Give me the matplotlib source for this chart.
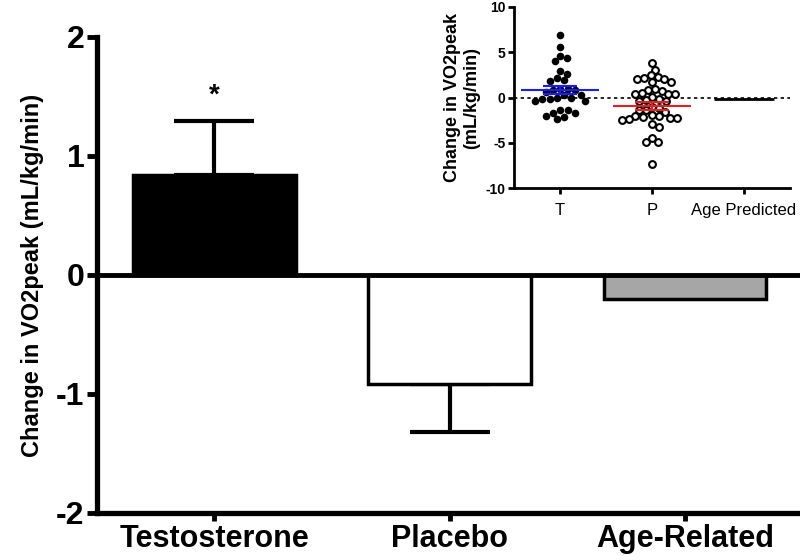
import numpy as np
import matplotlib
matplotlib.use('Agg')
import matplotlib.pyplot as plt

plt.rcParams['font.family'] = ['Liberation Sans', 'DejaVu Sans']

# Main bar chart data
groups = ['Testosterone', 'Placebo', 'Age-Related']
means = [0.84, -0.92, -0.20]
sems = [0.45, 0.40, 0.0]
bar_colors = ['black', 'white', '#a6a6a6']

# Inset scatter data (individual changes)
inset_labels = ['T', 'P', 'Age Predicted']
t_vals = [6.9, 5.6, 4.6, 4.4, 4.0, 2.9, 2.6, 2.2, 1.8, 1.9, 1.0, 1.0, 0.8, 0.8,
          0.6, 0.3, 0.0, -0.2, -0.35, -0.35, -0.2, 0.0, 0.3,
          -1.4, -1.7, -2.0, -2.4, -2.1, -1.7, -1.4]
p_vals = [3.8, 3.1, 2.5, 2.3, 2.2, 2.0, 2.0, 1.7, 1.7, 1.0, 0.8, 0.7, 0.4, 0.4,
          0.4, 0.5, 0.1, -0.2, -0.3, -0.4, -0.4, -1.0, -1.2, -1.4, -1.4, -1.6,
          -1.9, -2.0, -2.1, -2.2, -2.0, -2.2, -2.5, -2.4, -2.9, -3.2, -4.9,
          -4.9, -4.5, -7.3]
t_mean, t_sem = 0.84, 0.45
p_mean, p_sem = -0.92, 0.40
age_pred = -0.20


def swarm(vals, xunit_px, yunit_px, diam):
    # simple beeswarm: offsets (in data x units) so markers don't overlap
    placed = []
    offs = np.zeros(len(vals))
    order = np.argsort(vals)[::-1]
    for i in order:
        y = vals[i] * yunit_px
        for k in range(0, 400):
            cand = (k + 1) // 2 * (1 if k % 2 else -1) * 0.5
            if all((cand - px) ** 2 + (y - py) ** 2 >= diam ** 2 for px, py in placed):
                break
        placed.append((cand, y))
        offs[i] = cand / xunit_px
    return offs


fig = plt.figure(figsize=(8, 5.6), dpi=100)
ax = fig.add_axes([0.121, 0.084, 0.882, 0.85])

x = np.arange(len(groups))
ax.bar(x, means, width=0.69, color=bar_colors, edgecolor='black', linewidth=2.5, zorder=2)
# one-sided error bars
ax.errorbar(x[0], means[0], yerr=[[0], [sems[0]]], fmt='none', ecolor='black',
            elinewidth=3, capsize=29, capthick=3, zorder=1)
ax.errorbar(x[1], means[1], yerr=[[sems[1]], [0]], fmt='none', ecolor='black',
            elinewidth=3, capsize=29, capthick=3, zorder=1)
ax.text(x[0], means[0] + sems[0] + 0.22, '*', ha='center', va='center',
        fontsize=20, fontweight='bold')
ax.axhline(0, color='black', lw=3.5, zorder=3)

ax.set_xlim(-0.5, 2.5)
ax.set_ylim(-2, 2)
ax.set_yticks([-2, -1, 0, 1, 2])
ax.set_yticklabels(['-2', '-1', '0', '1', '2'], fontsize=23, fontweight='bold')
ax.set_xticks(x)
ax.set_xticklabels(groups, fontsize=22, fontweight='bold')
ax.tick_params(axis='x', length=6, width=3.5, pad=2)
ax.tick_params(axis='y', length=7, width=3.5, pad=2)
for s in ['top', 'right']:
    ax.spines[s].set_visible(False)
ax.spines['left'].set_linewidth(3.8)
ax.spines['bottom'].set_linewidth(3.8)
ax.set_ylabel('Change in VO2peak (mL/kg/min)', fontsize=17, fontweight='bold')
ax.yaxis.set_label_coords(-0.075, 0.5)

# Inset
ins = fig.add_axes([0.6425, 0.664, 0.345, 0.3235])
ins.set_xlim(-0.5, 2.5)
ins.set_ylim(-10, 10)
ins.axhline(0, color='black', lw=1.2, ls=(0, (2, 2)), zorder=1)
xu, yu = 92.0, 9.05
t_off = swarm(np.array(t_vals), xu, yu, 7.2)
p_off = swarm(np.array(p_vals), xu, yu, 7.0)
ins.scatter(0 + t_off, t_vals, s=30, color='black', linewidth=0, zorder=3)
ins.scatter(1 + p_off, p_vals, s=24, facecolor='white', edgecolor='black', linewidth=1.5, zorder=3)
# means +- sem
ins.hlines(t_mean, -0.42, 0.42, color='#1a1aff', lw=1.5, zorder=4)
ins.hlines([t_mean - t_sem, t_mean + t_sem], -0.18, 0.18, color='#1a1aff', lw=1.5, zorder=4)
ins.vlines(0, t_mean - t_sem, t_mean + t_sem, color='#1a1aff', lw=1.5, zorder=4)
ins.hlines(p_mean, 1 - 0.42, 1 + 0.42, color='#ee1c1c', lw=1.5, zorder=4)
ins.hlines([p_mean - p_sem, p_mean + p_sem], 1 - 0.18, 1 + 0.18, color='#ee1c1c', lw=1.5, zorder=4)
ins.vlines(1, p_mean - p_sem, p_mean + p_sem, color='#ee1c1c', lw=1.5, zorder=4)
ins.hlines(age_pred, 2 - 0.33, 2 + 0.33, color='black', lw=2, zorder=4)

ins.set_yticks([-10, -5, 0, 5, 10])
ins.set_yticklabels(['-10', '-5', '0', '5', '10'], fontsize=10, fontweight='bold')
ins.set_xticks([0, 1, 2])
ins.set_xticklabels(inset_labels, fontsize=12)
ins.tick_params(length=4, width=2, pad=2)
ins.tick_params(axis='x', pad=7)
for s in ['top', 'right']:
    ins.spines[s].set_visible(False)
for s in ['left', 'bottom']:
    ins.spines[s].set_linewidth(2)
ins.set_ylabel('Change in VO2peak\n(mL/kg/min)', fontsize=13, fontweight='bold', labelpad=4)

fig.savefig('out.png', dpi=100)
